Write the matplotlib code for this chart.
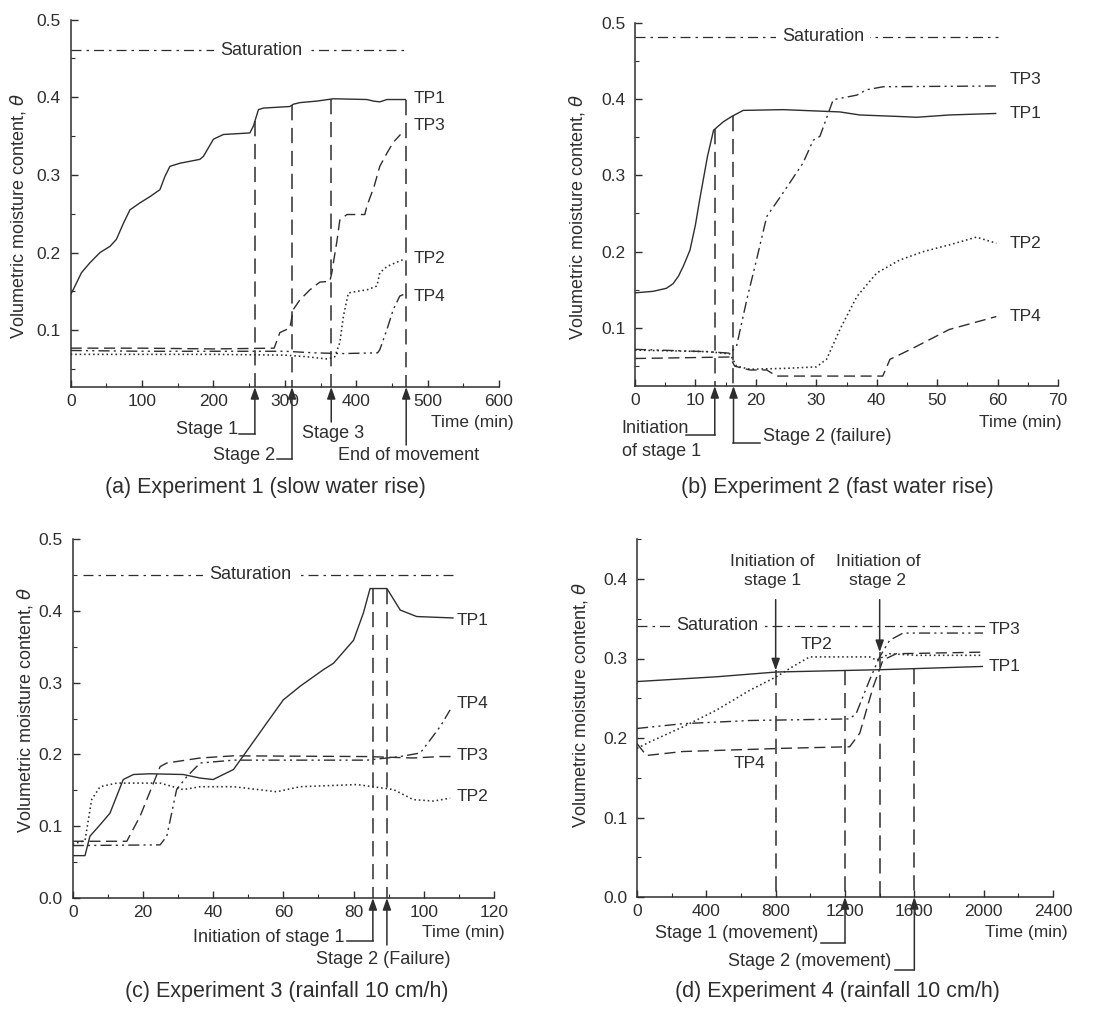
import matplotlib
matplotlib.use('Agg')
import matplotlib.pyplot as plt
import matplotlib.transforms as mtransforms
from matplotlib.ticker import MultipleLocator, FormatStrFormatter
import numpy as np

# ---- data ----
# (a) Experiment 1 (slow water rise)
a_t1 = [0, 5, 15, 27, 41, 55, 64, 74, 83, 97, 111, 125, 132, 139, 153, 181, 186, 200, 214, 251, 256, 263,
        270, 307, 312, 321, 345, 368, 415, 424, 433, 443, 470]
a_v1 = [0.146, 0.155, 0.174, 0.187, 0.2, 0.208, 0.217, 0.238, 0.255, 0.264, 0.272, 0.281, 0.298, 0.311, 0.315,
        0.32, 0.324, 0.346, 0.352, 0.354, 0.363, 0.384, 0.386, 0.388, 0.391, 0.393, 0.395, 0.398, 0.397, 0.395,
        0.394, 0.397, 0.397]
a_t2 = [0, 100, 200, 300, 330, 360, 370, 377, 382, 389, 400, 415, 429, 433, 443, 455, 466]
a_v2 = [0.069, 0.069, 0.069, 0.068, 0.066, 0.063, 0.066, 0.084, 0.118, 0.148, 0.15, 0.152, 0.157, 0.174, 0.182,
        0.187, 0.191]
a_t3 = [0, 100, 200, 285, 293, 300, 307, 312, 321, 335, 349, 363, 366, 368, 373, 377, 387, 400, 412, 415, 425,
        433, 443, 452, 462]
a_v3 = [0.077, 0.077, 0.076, 0.077, 0.097, 0.1, 0.103, 0.127, 0.139, 0.152, 0.162, 0.163, 0.175, 0.187, 0.215,
        0.242, 0.249, 0.249, 0.249, 0.26, 0.285, 0.311, 0.328, 0.342, 0.352]
a_t4 = [0, 100, 200, 300, 340, 380, 430, 433, 443, 452, 461, 466]
a_v4 = [0.074, 0.073, 0.073, 0.073, 0.071, 0.07, 0.071, 0.075, 0.101, 0.127, 0.144, 0.146]

# (b) Experiment 2 (fast water rise)
b_t1 = [0, 3, 5.2, 6.3, 7.2, 8, 9.1, 10, 10.7, 12, 13, 14.6, 16, 17.9, 24.5, 33.9, 37.2, 43.8, 46.6, 52, 59.8]
b_v1 = [0.146, 0.148, 0.152, 0.158, 0.168, 0.181, 0.202, 0.235, 0.268, 0.325, 0.359, 0.37, 0.377, 0.385, 0.386,
        0.383, 0.379, 0.377, 0.376, 0.379, 0.381]
b_t2 = [0, 12, 15.7, 16.8, 19, 24.5, 30, 31.7, 33.9, 36.7, 40, 43.8, 47.7, 52.1, 56.5, 59.8]
b_v2 = [0.071, 0.069, 0.066, 0.05, 0.046, 0.047, 0.049, 0.059, 0.098, 0.141, 0.172, 0.189, 0.2, 0.209, 0.219,
        0.211]
b_t3 = [0, 11.9, 15.7, 16.8, 18.5, 20.1, 21.8, 24.5, 27.8, 29.5, 30.6, 32.8, 36.7, 38.3, 41.1, 59.8]
b_v3 = [0.072, 0.069, 0.067, 0.076, 0.137, 0.189, 0.246, 0.277, 0.316, 0.346, 0.351, 0.399, 0.405, 0.412, 0.416,
        0.417]
b_t4 = [0, 15.7, 16.5, 19, 21.8, 23.4, 41, 42.2, 43.8, 46.6, 52, 59.8]
b_v4 = [0.06, 0.062, 0.05, 0.045, 0.045, 0.037, 0.037, 0.059, 0.065, 0.076, 0.098, 0.115]

# (c) Experiment 3 (rainfall 10 cm/h)
c_t1 = [0, 3.5, 4.9, 7.8, 10.6, 14.4, 17.3, 22, 31.5, 36.3, 40, 45.8, 50.5, 55.3, 60, 64.8, 71.4, 74.3, 80,
        82.8, 84.7, 89.5, 93.3, 98, 108.5]
c_v1 = [0.059, 0.059, 0.086, 0.102, 0.118, 0.165, 0.172, 0.173, 0.172, 0.167, 0.165, 0.179, 0.211, 0.244,
        0.276, 0.295, 0.318, 0.327, 0.359, 0.397, 0.431, 0.431, 0.401, 0.392, 0.39]
c_t2 = [0, 3.5, 5.4, 7.8, 12.5, 24.9, 31.5, 36.3, 45.8, 58.1, 64.8, 81, 91.4, 97, 102.8, 107.5]
c_v2 = [0.075, 0.08, 0.137, 0.155, 0.16, 0.16, 0.151, 0.155, 0.155, 0.148, 0.155, 0.158, 0.151, 0.137, 0.135,
        0.139]
c_t3 = [0, 15.4, 19.2, 24.9, 26.8, 36.3, 45.8, 83.8, 97, 104.7, 108.5]
c_v3 = [0.079, 0.079, 0.114, 0.183, 0.188, 0.195, 0.198, 0.197, 0.195, 0.197, 0.197]
c_t4 = [0, 24.9, 26.8, 29.6, 32.5, 36.3, 45.8, 83.8, 93.3, 99, 101.8, 104.7, 107.5]
c_v4 = [0.073, 0.074, 0.086, 0.151, 0.169, 0.188, 0.192, 0.192, 0.197, 0.202, 0.22, 0.239, 0.262]

# (d) Experiment 4 (rainfall 10 cm/h)
d_t1 = [0, 458, 804, 1419, 1996]
d_v1 = [0.271, 0.277, 0.283, 0.286, 0.29]
d_t2 = [0, 73, 265, 458, 650, 804, 900, 996, 1227, 1342, 1381, 1458, 1612, 1996]
d_v2 = [0.187, 0.195, 0.214, 0.235, 0.26, 0.277, 0.29, 0.302, 0.302, 0.302, 0.298, 0.306, 0.304, 0.304]
d_t3 = [0, 265, 650, 1227, 1265, 1342, 1400, 1458, 1535, 1996]
d_v3 = [0.212, 0.218, 0.222, 0.224, 0.231, 0.273, 0.302, 0.323, 0.332, 0.332]
d_t4 = [0, 54, 265, 842, 1227, 1285, 1362, 1419, 1496, 1996]
d_v4 = [0.193, 0.178, 0.183, 0.187, 0.189, 0.206, 0.264, 0.298, 0.306, 0.308]

saturation = [0.4605, 0.4816, 0.45, 0.341]
a_events = [258, 310, 365, 470]
b_events = [13.2, 16.3]
c_events = [85.5, 89.5]
d_events = [800, 1200, 1400, 1600]
titles = ['(a) Experiment 1 (slow water rise)', '(b) Experiment 2 (fast water rise)',
          '(c) Experiment 3 (rainfall 10 cm/h)', '(d) Experiment 4 (rainfall 10 cm/h)']

# ---- styling ----
W, H = 1100, 1015
INK = '#2e2e2e'
plt.rcParams['font.family'] = ['Liberation Sans', 'DejaVu Sans']
plt.rcParams['text.color'] = INK

LS = {'solid': '-', 'dot': (0, (1, 1.8)), 'dash': (0, (8, 4)),
      'dd': (0, (8, 3, 1.5, 3, 1.5, 3)), 'sat': (0, (8, 4, 2, 4)), 'guide': (0, (10, 5))}

fig = plt.figure(figsize=(W / 100, H / 100), dpi=100)


def fy(py):
    return 1 - py / H


def make_axes(rect_px, xmax, xmaj, ylo, yhi):
    l, r, b, t = rect_px
    ax = fig.add_axes([l / W, 1 - b / H, (r - l) / W, (b - t) / H])
    ax.set_xlim(0, xmax)
    ax.set_ylim(ylo, yhi)
    for s in ['top', 'right']:
        ax.spines[s].set_visible(False)
    for s in ['left', 'bottom']:
        ax.spines[s].set_color(INK)
        ax.spines[s].set_linewidth(1.1)
    ax.xaxis.set_major_locator(MultipleLocator(xmaj))
    ax.xaxis.set_minor_locator(MultipleLocator(xmaj / 2))
    ax.yaxis.set_major_locator(MultipleLocator(0.1))
    ax.yaxis.set_minor_locator(MultipleLocator(0.05))
    ax.yaxis.set_major_formatter(FormatStrFormatter('%.1f'))
    ax.tick_params(which='both', direction='in', color=INK, labelcolor=INK, labelsize=12.5)
    ax.tick_params(which='major', length=5, width=1)
    ax.tick_params(which='minor', length=3, width=0.8)
    ax.tick_params(axis='x', pad=5)
    ax.tick_params(axis='y', pad=7)
    ax.patch.set_alpha(0)
    return ax


def curves(ax, data):
    for t, v, ls in data:
        ax.plot(t, v, color=INK, lw=1.0 if ls != 'dot' else 1.15, linestyle=LS[ls], solid_capstyle='butt')


def sat_line(ax, x0, x1, y, xt):
    ax.plot([x0, x1], [y, y], color=INK, lw=0.9, linestyle=LS['sat'])
    ax.text(xt, y, 'Saturation', ha='center', va='center', fontsize=13,
            bbox=dict(boxstyle='square,pad=0.35', fc='white', ec='none'))


def guides(ax, xs, tops):
    lo = ax.get_ylim()[0]
    for x, top in zip(xs, tops):
        ax.plot([x, x], [top, lo], color=INK, lw=1.1, linestyle=LS['guide'])


def up_arrow(ax, x, py_end):
    tr = mtransforms.blended_transform_factory(ax.transData, fig.transFigure)
    ax.annotate('', xy=(x, 0), xycoords=ax.get_xaxis_transform(),
                xytext=(x, fy(py_end)), textcoords=tr, annotation_clip=False,
                arrowprops=dict(arrowstyle='-|>,head_length=0.7,head_width=0.25', color=INK, lw=1.1,
                                shrinkA=0, shrinkB=0))


def leg(ax, x0, x1, py):
    tr = mtransforms.blended_transform_factory(ax.transData, fig.transFigure)
    ax.plot([x0, x1], [fy(py), fy(py)], color=INK, lw=1.1, transform=tr, clip_on=False)


def label(ax, x, py, s, ha='center', size=13, **kw):
    tr = mtransforms.blended_transform_factory(ax.transData, fig.transFigure)
    ax.text(x, fy(py), s, transform=tr, ha=ha, va='center', fontsize=size, **kw)


def tp(ax, x, y, s, ha='left'):
    ax.text(x, y, s, ha=ha, va='center', fontsize=12.5)


ylab = r'Volumetric moisture content, $\theta$'

# ---------------- (a) ----------------
ax = make_axes((70.7, 499, 387, 19.5), 600, 100, 0.027, 0.5)
curves(ax, [(a_t1, a_v1, 'solid'), (a_t2, a_v2, 'dot'), (a_t3, a_v3, 'dash'), (a_t4, a_v4, 'dd')])
sat_line(ax, 0, 470, saturation[0], 267)
guides(ax, a_events, [np.interp(e, a_t1, a_v1) for e in a_events])
for e, pe in zip(a_events, [434, 459, 422, 445]):
    up_arrow(ax, e, pe)
leg(ax, 236, a_events[0], 434)
label(ax, 234, 430, 'Stage 1', ha='right')
leg(ax, 289, a_events[1], 459)
label(ax, 286, 455, 'Stage 2', ha='right')
label(ax, 367, 433, 'Stage 3')
label(ax, 474, 455, 'End of movement')
label(ax, 562, 423, 'Time (min)', size=12.5)
for y, s in zip([0.398, 0.363, 0.193, 0.144], ['TP1', 'TP3', 'TP2', 'TP4']):
    tp(ax, 480, y, s)
fig.text(18 / W, fy(216), ylab, rotation=90, ha='center', va='center', fontsize=13)
fig.text(265 / W, fy(488), titles[0], ha='center', va='center', fontsize=15.5)

# ---------------- (b) ----------------
ax = make_axes((635, 1058, 386, 22.6), 70, 10, 0.024, 0.5)
curves(ax, [(b_t1, b_v1, 'solid'), (b_t2, b_v2, 'dot'), (b_t3, b_v3, 'dd'), (b_t4, b_v4, 'dash')])
sat_line(ax, 0, 60, saturation[1], 31.1)
guides(ax, b_events, [np.interp(e, b_t1, b_v1) for e in b_events])
up_arrow(ax, b_events[0], 435)
up_arrow(ax, b_events[1], 443)
leg(ax, 8.5, b_events[0], 435)
label(ax, -2.2, 440, 'Initiation\nof stage 1', ha='left', linespacing=1.5)
leg(ax, b_events[1], 20.7, 443)
label(ax, 21.2, 437, 'Stage 2 (failure)', ha='left')
label(ax, 63.7, 422, 'Time (min)', size=12.5)
for y, s in zip([0.425, 0.381, 0.211, 0.115], ['TP3', 'TP1', 'TP2', 'TP4']):
    tp(ax, 62, y, s)
fig.text(577 / W, fy(217), ylab, rotation=90, ha='center', va='center', fontsize=13)
fig.text(837 / W, fy(488), titles[1], ha='center', va='center', fontsize=15.5)

# ---------------- (c) ----------------
ax = make_axes((72.7, 494, 898, 539), 120, 20, 0.0, 0.5)
curves(ax, [(c_t1, c_v1, 'solid'), (c_t2, c_v2, 'dot'), (c_t3, c_v3, 'dash'), (c_t4, c_v4, 'dd')])
sat_line(ax, 3, 108.5, saturation[2], 50.5)
guides(ax, c_events, [np.interp(e, c_t1, c_v1) for e in c_events])
up_arrow(ax, c_events[0], 941)
up_arrow(ax, c_events[1], 945)
leg(ax, 78, c_events[0], 941)
label(ax, 77.5, 937, 'Initiation of stage 1', ha='right')
label(ax, 88.5, 960, 'Stage 2 (Failure)')
label(ax, 111.3, 933, 'Time (min)', size=12.5)
for y, s in zip([0.387, 0.271, 0.199, 0.141], ['TP1', 'TP4', 'TP3', 'TP2']):
    tp(ax, 109.4, y, s)
fig.text(25 / W, fy(710), ylab, rotation=90, ha='center', va='center', fontsize=13)
fig.text(287 / W, fy(992), titles[2], ha='center', va='center', fontsize=15.5)

# ---------------- (d) ----------------
ax = make_axes((637, 1053, 897, 539.25), 2400, 400, 0.0, 0.45)
curves(ax, [(d_t1, d_v1, 'solid'), (d_t2, d_v2, 'dot'), (d_t3, d_v3, 'dd'), (d_t4, d_v4, 'dash')])
ax.plot([0, 2015], [saturation[3]] * 2, color=INK, lw=0.9, linestyle=LS['sat'])
ax.text(462, saturation[3], 'Saturation', ha='center', va='center', fontsize=13,
        bbox=dict(boxstyle='square,pad=0.35', fc='white', ec='none'))
guides(ax, d_events, [0.285, np.interp(1200, d_t1, d_v1), 0.308, np.interp(1600, d_t1, d_v1)])
for e, tip in [(d_events[0], 0.285), (d_events[2], 0.308)]:
    ax.annotate('', xy=(e, tip), xytext=(e, 0.374),
                arrowprops=dict(arrowstyle='-|>,head_length=0.7,head_width=0.25', color=INK, lw=1.1,
                                shrinkA=0, shrinkB=0))
ax.text(781, 0.41, 'Initiation of\nstage 1', ha='center', va='center', fontsize=12.5, linespacing=1.4)
ax.text(1390, 0.41, 'Initiation of\nstage 2', ha='center', va='center', fontsize=12.5, linespacing=1.4)
up_arrow(ax, d_events[1], 943)
up_arrow(ax, d_events[3], 970)
leg(ax, 1063, d_events[1], 943)
label(ax, 1044, 933, 'Stage 1 (movement)', ha='right')
leg(ax, 1487, d_events[3], 970)
label(ax, 1467, 962, 'Stage 2 (movement)', ha='right')
label(ax, 2246, 933, 'Time (min)', size=12.5)
tp(ax, 2031, 0.336, 'TP3')
tp(ax, 2031, 0.29, 'TP1')
tp(ax, 1035, 0.318, 'TP2', ha='center')
tp(ax, 650, 0.168, 'TP4', ha='center')
fig.text(580 / W, fy(705), ylab, rotation=90, ha='center', va='center', fontsize=13)
fig.text(837 / W, fy(992), titles[3], ha='center', va='center', fontsize=15.5)

fig.savefig('out.png', dpi=100, facecolor='white')
